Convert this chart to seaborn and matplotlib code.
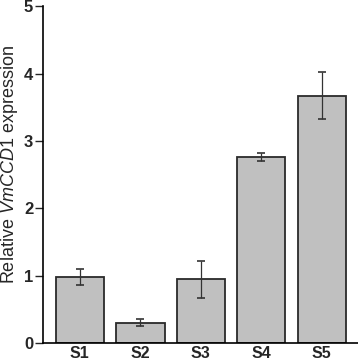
import matplotlib
matplotlib.use("Agg")
import matplotlib.pyplot as plt
import seaborn as sns
import pandas as pd

categories = ["S1", "S2", "S3", "S4", "S5"]
values = [0.98, 0.30, 0.945, 2.76, 3.67]
errors = [0.125, 0.05, 0.27, 0.06, 0.35]
yticks = [0, 1, 2, 3, 4, 5]

sns.set_style("ticks")
plt.rcParams['font.family'] = ['Liberation Sans', 'DejaVu Sans']
plt.rcParams['mathtext.fontset'] = 'custom'
plt.rcParams['mathtext.it'] = 'Liberation Sans:italic'
plt.rcParams['mathtext.rm'] = 'Liberation Sans'

df = pd.DataFrame({"cat": categories, "val": values})

fig = plt.figure(figsize=(3.58, 3.62), dpi=100)
ax = fig.add_axes([0.12, 0.0525, 0.88, 0.9305])
sns.barplot(data=df, x="cat", y="val", color="#c0c0c0", saturation=1,
            edgecolor="#2a2a2a", linewidth=1.3, width=0.8, errorbar=None, ax=ax)
ax.errorbar(range(len(categories)), values, yerr=errors, fmt="none",
            ecolor="#333333", elinewidth=0.9, capsize=3, capthick=1.2)

ax.set_ylim(0, 5)
ax.set_xlim(-0.61, 4.6)
ax.set_yticks(yticks)
ax.set_yticklabels([str(t) for t in yticks], fontsize=12, fontweight="bold")
ax.set_xticks(range(len(categories)))
ax.set_xticklabels(categories, fontsize=11.5, fontweight="bold")
ax.tick_params(axis="x", length=0, pad=2.5)
ax.tick_params(axis="y", length=5.5, width=1, direction="out", pad=1.5)
ax.set_xlabel("")
ax.set_ylabel(r"Relative $\mathit{VmCCD1}$ expression", fontsize=13, labelpad=3, y=0.53)
for s in ["top", "right"]:
    ax.spines[s].set_visible(False)
for s in ["left", "bottom"]:
    ax.spines[s].set_linewidth(1.2)
    ax.spines[s].set_color("black")

fig.savefig("out.png", dpi=100)
